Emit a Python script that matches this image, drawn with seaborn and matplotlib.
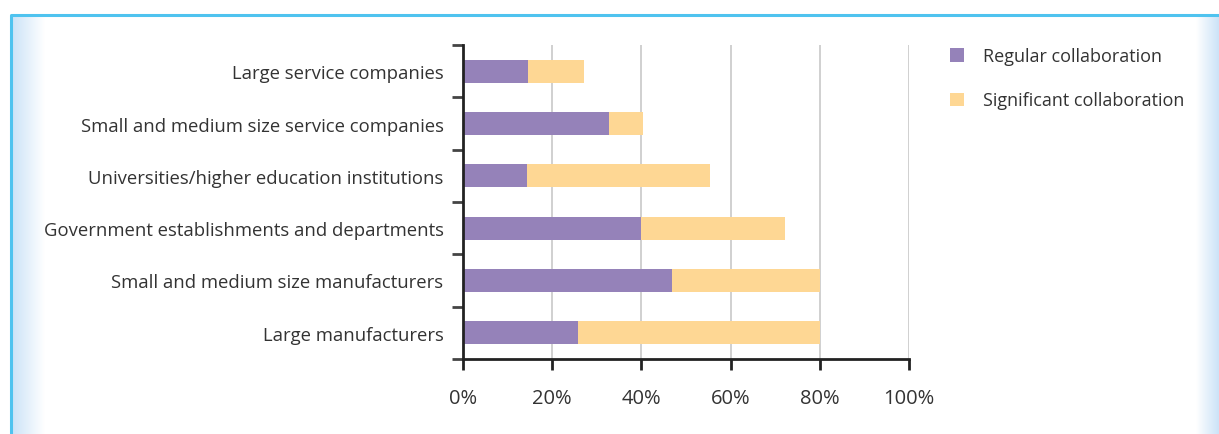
import numpy as np
import pandas as pd
import seaborn as sns
import matplotlib.pyplot as plt

categories = ["Large service companies",
              "Small and medium size service companies",
              "Universities/higher education institutions",
              "Government establishments and departments",
              "Small and medium size manufacturers",
              "Large manufacturers"]
regular = [14.5, 32.7, 14.3, 40.0, 46.8, 25.7]
significant = [12.6, 7.6, 41.0, 32.3, 33.2, 54.3]
xticks = [0, 20, 40, 60, 80, 100]
xtick_labels = ["0%", "20%", "40%", "60%", "80%", "100%"]

purple = "#9582b9"
yellow = "#fed794"
text_col = "#333333"

sns.set_style("white")
plt.rcParams['font.family'] = ['Open Sans', 'DejaVu Sans']

df = pd.DataFrame({"category": categories, "regular": regular, "significant": significant})
df["total"] = df["regular"] + df["significant"]

fig = plt.figure(figsize=(12.19, 4.35), dpi=100)

# frame + soft blue side strips
bg = fig.add_axes([0, 0, 1, 1], zorder=-5)
bg.set_xlim(0, 1219)
bg.set_ylim(435, 0)
bg.axis("off")
grad = np.linspace(0, 1, 64).reshape(1, -1)
bg.imshow(np.dstack([0.80 + 0.2 * grad, 0.89 + 0.11 * grad, 0.97 + 0.03 * grad]),
          extent=[12, 45, 435, 16], aspect="auto")
bg.imshow(np.dstack([1 - 0.2 * grad, 1 - 0.11 * grad, 1 - 0.03 * grad]),
          extent=[1196, 1219, 435, 16], aspect="auto")
bg.plot([11, 11, 1219], [435, 15.5, 15.5], color="#4fc3ef", lw=2.2, solid_capstyle="butt")

ax = fig.add_axes([463 / 1219, 1 - 360 / 435, 446 / 1219, 314 / 435])
# stacked: totals in yellow underneath, regular part in purple on top
sns.barplot(data=df, x="total", y="category", color=yellow, width=0.44, linewidth=0,
            orient="h", ax=ax, saturation=1, label="Significant collaboration")
sns.barplot(data=df, x="regular", y="category", color=purple, width=0.44, linewidth=0,
            orient="h", ax=ax, saturation=1, label="Regular collaboration")

ax.set_xlim(0, 100)
ax.set_ylim(5.5, -0.5)
ax.set_xticks(xticks)
ax.set_xticklabels(xtick_labels)
ax.set_xlabel("")
ax.set_ylabel("")
ax.grid(axis="x", color="#c8c8c8", lw=1.2)
ax.set_axisbelow(True)
for s in ["top", "right"]:
    ax.spines[s].set_visible(False)
ax.spines["left"].set_color("#222222")
ax.spines["left"].set_linewidth(2)
ax.spines["bottom"].set_color("#222222")
ax.spines["bottom"].set_linewidth(2)
ax.tick_params(axis="y", which="major", left=False, length=0, labelsize=13.3,
               labelcolor=text_col, pad=14)
ax.tick_params(axis="x", bottom=True, length=8, width=2, color="#222222",
               labelsize=14.5, labelcolor=text_col, pad=13)
ax.set_yticks(np.arange(-0.5, 6, 1), minor=True)
ax.tick_params(axis="y", which="minor", left=True, length=8, width=2, color="#444444")

handles, labels = ax.get_legend_handles_labels()
order = [labels.index("Regular collaboration"), labels.index("Significant collaboration")]
leg = ax.legend([handles[i] for i in order], [labels[i] for i in order],
                loc="upper left", bbox_to_anchor=(934 / 1219, 1 - 32 / 435),
                bbox_transform=fig.transFigure, frameon=False, fontsize=13,
                handlelength=0.75, handleheight=0.75, handletextpad=1.05,
                labelspacing=1.45, labelcolor=text_col)

fig.savefig("out.png", dpi=100)
